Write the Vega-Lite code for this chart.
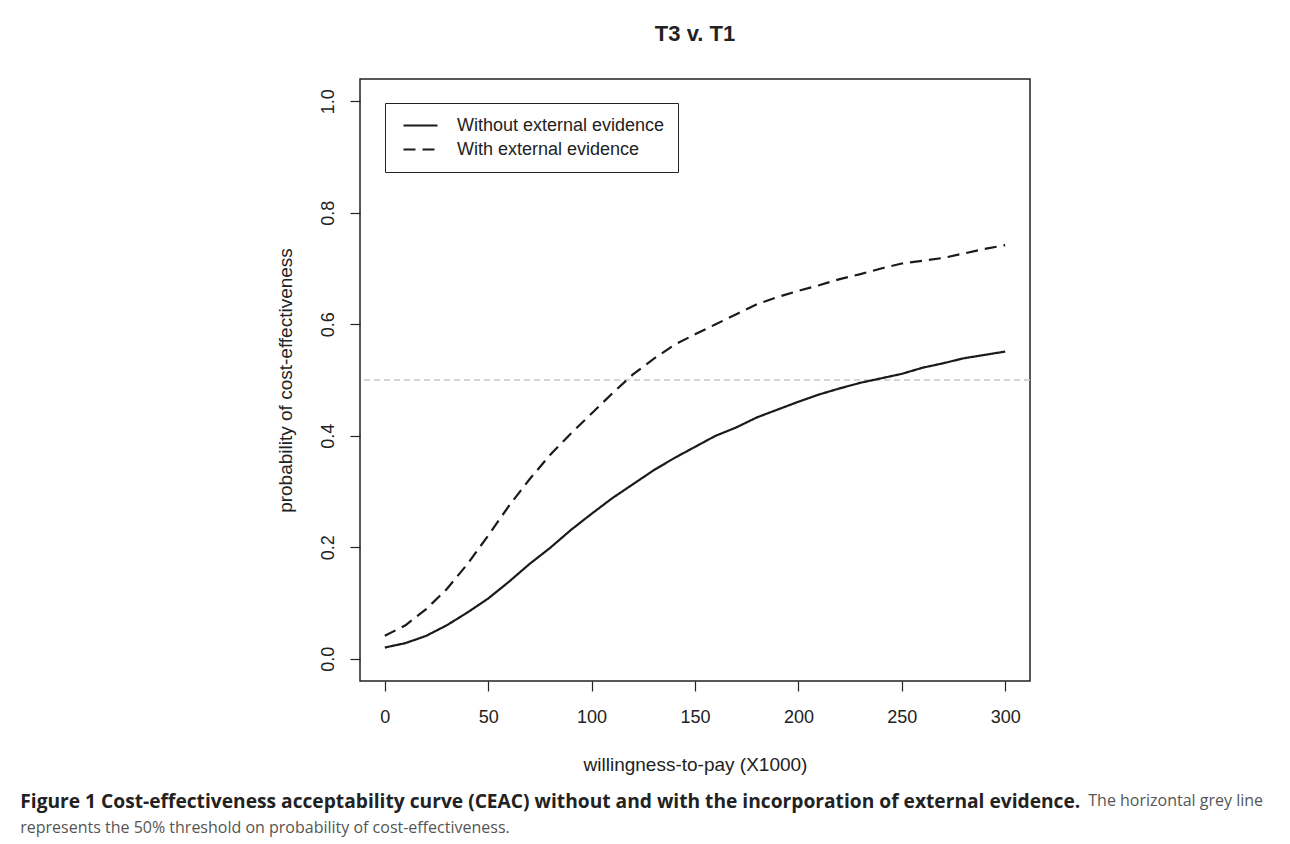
{
  "$schema": "https://vega.github.io/schema/vega-lite/v6.json",
  "background": "white",
  "padding": {"left": 20, "top": 22, "right": 10, "bottom": 10},
  "config": {
    "font": "Liberation Sans",
    "view": {"stroke": "#222", "strokeWidth": 1.5}
  },
  "title": {
    "text": "Figure 1 Cost-effectiveness acceptability curve (CEAC) without and with the incorporation of external evidence.",
    "subtitle": "represents the 50% threshold on probability of cost-effectiveness.",
    "orient": "bottom",
    "anchor": "start",
    "font": "Open Sans",
    "fontSize": 19.2,
    "fontWeight": "bold",
    "color": "#222",
    "subtitleFont": "Open Sans",
    "subtitleFontSize": 16,
    "subtitleColor": "#555",
    "subtitlePadding": 8,
    "offset": 0,
    "dx": -255,
    "dy": -16
  },
  "vconcat": [
    {
      "title": {
        "text": "The horizontal grey line",
        "orient": "bottom",
        "anchor": "start",
        "font": "Open Sans",
        "fontSize": 16,
        "fontWeight": "normal",
        "color": "#555",
        "offset": 18,
        "dx": 813
      },
      "vconcat": [
        {
          "width": 670,
          "height": 602,
          "title": {
            "text": "T3 v. T1",
            "font": "Liberation Sans",
            "fontSize": 22,
            "fontWeight": "bold",
            "color": "#222",
            "anchor": "middle",
            "frame": "group",
            "offset": 33
          },
          "layer": [
            {
              "data": {"values": [{"threshold": 0.5}]},
              "mark": {"type": "rule", "color": "#c8c8c8", "strokeDash": [6, 4], "strokeWidth": 1.5},
              "encoding": {
                "y": {"field": "threshold", "type": "quantitative", "title": "probability of cost-effectiveness"}
              }
            },
            {
              "data": {
                "values": [
                  {"wtp": 0, "prob": 0.02, "evidence": "Without external evidence"},
                  {"wtp": 10, "prob": 0.028, "evidence": "Without external evidence"},
                  {"wtp": 20, "prob": 0.041, "evidence": "Without external evidence"},
                  {"wtp": 30, "prob": 0.06, "evidence": "Without external evidence"},
                  {"wtp": 40, "prob": 0.083, "evidence": "Without external evidence"},
                  {"wtp": 50, "prob": 0.108, "evidence": "Without external evidence"},
                  {"wtp": 60, "prob": 0.138, "evidence": "Without external evidence"},
                  {"wtp": 70, "prob": 0.17, "evidence": "Without external evidence"},
                  {"wtp": 80, "prob": 0.199, "evidence": "Without external evidence"},
                  {"wtp": 90, "prob": 0.231, "evidence": "Without external evidence"},
                  {"wtp": 100, "prob": 0.26, "evidence": "Without external evidence"},
                  {"wtp": 110, "prob": 0.288, "evidence": "Without external evidence"},
                  {"wtp": 120, "prob": 0.313, "evidence": "Without external evidence"},
                  {"wtp": 130, "prob": 0.338, "evidence": "Without external evidence"},
                  {"wtp": 140, "prob": 0.36, "evidence": "Without external evidence"},
                  {"wtp": 150, "prob": 0.38, "evidence": "Without external evidence"},
                  {"wtp": 160, "prob": 0.4, "evidence": "Without external evidence"},
                  {"wtp": 170, "prob": 0.415, "evidence": "Without external evidence"},
                  {"wtp": 180, "prob": 0.433, "evidence": "Without external evidence"},
                  {"wtp": 190, "prob": 0.447, "evidence": "Without external evidence"},
                  {"wtp": 200, "prob": 0.461, "evidence": "Without external evidence"},
                  {"wtp": 210, "prob": 0.474, "evidence": "Without external evidence"},
                  {"wtp": 220, "prob": 0.485, "evidence": "Without external evidence"},
                  {"wtp": 230, "prob": 0.495, "evidence": "Without external evidence"},
                  {"wtp": 240, "prob": 0.503, "evidence": "Without external evidence"},
                  {"wtp": 250, "prob": 0.511, "evidence": "Without external evidence"},
                  {"wtp": 260, "prob": 0.522, "evidence": "Without external evidence"},
                  {"wtp": 270, "prob": 0.53, "evidence": "Without external evidence"},
                  {"wtp": 280, "prob": 0.539, "evidence": "Without external evidence"},
                  {"wtp": 290, "prob": 0.545, "evidence": "Without external evidence"},
                  {"wtp": 300, "prob": 0.551, "evidence": "Without external evidence"},
                  {"wtp": 0, "prob": 0.041, "evidence": "With external evidence"},
                  {"wtp": 10, "prob": 0.06, "evidence": "With external evidence"},
                  {"wtp": 20, "prob": 0.089, "evidence": "With external evidence"},
                  {"wtp": 30, "prob": 0.125, "evidence": "With external evidence"},
                  {"wtp": 40, "prob": 0.17, "evidence": "With external evidence"},
                  {"wtp": 50, "prob": 0.221, "evidence": "With external evidence"},
                  {"wtp": 60, "prob": 0.274, "evidence": "With external evidence"},
                  {"wtp": 70, "prob": 0.322, "evidence": "With external evidence"},
                  {"wtp": 80, "prob": 0.366, "evidence": "With external evidence"},
                  {"wtp": 90, "prob": 0.404, "evidence": "With external evidence"},
                  {"wtp": 100, "prob": 0.44, "evidence": "With external evidence"},
                  {"wtp": 110, "prob": 0.476, "evidence": "With external evidence"},
                  {"wtp": 120, "prob": 0.51, "evidence": "With external evidence"},
                  {"wtp": 130, "prob": 0.538, "evidence": "With external evidence"},
                  {"wtp": 140, "prob": 0.563, "evidence": "With external evidence"},
                  {"wtp": 150, "prob": 0.582, "evidence": "With external evidence"},
                  {"wtp": 160, "prob": 0.6, "evidence": "With external evidence"},
                  {"wtp": 170, "prob": 0.618, "evidence": "With external evidence"},
                  {"wtp": 180, "prob": 0.636, "evidence": "With external evidence"},
                  {"wtp": 190, "prob": 0.649, "evidence": "With external evidence"},
                  {"wtp": 200, "prob": 0.66, "evidence": "With external evidence"},
                  {"wtp": 210, "prob": 0.67, "evidence": "With external evidence"},
                  {"wtp": 220, "prob": 0.681, "evidence": "With external evidence"},
                  {"wtp": 230, "prob": 0.69, "evidence": "With external evidence"},
                  {"wtp": 240, "prob": 0.7, "evidence": "With external evidence"},
                  {"wtp": 250, "prob": 0.709, "evidence": "With external evidence"},
                  {"wtp": 260, "prob": 0.714, "evidence": "With external evidence"},
                  {"wtp": 270, "prob": 0.719, "evidence": "With external evidence"},
                  {"wtp": 280, "prob": 0.727, "evidence": "With external evidence"},
                  {"wtp": 290, "prob": 0.735, "evidence": "With external evidence"},
                  {"wtp": 300, "prob": 0.742, "evidence": "With external evidence"}
                ]
              },
              "mark": {"type": "line", "color": "#1a1a1a", "strokeWidth": 2.2},
              "encoding": {
                "x": {
                  "field": "wtp",
                  "type": "quantitative",
                  "scale": {"domain": [-12, 312], "nice": false, "zero": false},
                  "axis": {
                    "title": "willingness-to-pay (X1000)",
                    "values": [0, 50, 100, 150, 200, 250, 300],
                    "grid": false,
                    "domain": false,
                    "tickSize": 10,
                    "tickWidth": 1.2,
                    "tickColor": "#222",
                    "labelFlush": false,
                    "labelOverlap": false,
                    "labelPadding": 17,
                    "labelFontSize": 18,
                    "labelColor": "#222",
                    "titleFontSize": 19,
                    "titleFontWeight": "normal",
                    "titleColor": "#222",
                    "titlePadding": 29
                  }
                },
                "y": {
                  "field": "prob",
                  "type": "quantitative",
                  "scale": {"domain": [-0.04, 1.04], "nice": false, "zero": false},
                  "title": "probability of cost-effectiveness",
                  "axis": {
                    "values": [0, 0.2, 0.4, 0.6, 0.8, 1],
                    "format": ".1f",
                    "grid": false,
                    "domain": false,
                    "tickSize": 10,
                    "tickWidth": 1.2,
                    "tickColor": "#222",
                    "labelAngle": -90,
                    "labelAlign": "center",
                    "labelBaseline": "alphabetic",
                    "labelPadding": 17,
                    "labelFlush": false,
                    "labelOverlap": false,
                    "labelFontSize": 18,
                    "labelColor": "#222",
                    "titleFontSize": 19,
                    "titleFontWeight": "normal",
                    "titleColor": "#222",
                    "titlePadding": 24
                  }
                },
                "strokeDash": {
                  "field": "evidence",
                  "type": "nominal",
                  "scale": {
                    "domain": ["Without external evidence", "With external evidence"],
                    "range": [[1, 0], [12, 7]]
                  },
                  "legend": {
                    "orient": "none",
                    "legendX": 25,
                    "legendY": 24,
                    "title": null,
                    "strokeColor": "#222",
                    "fillColor": "white",
                    "padding": 13,
                    "symbolType": "M-2,0H2",
                    "symbolSize": 289,
                    "symbolStrokeWidth": 2,
                    "symbolStrokeColor": "#1a1a1a",
                    "symbolFillColor": "transparent",
                    "symbolOffset": 13,
                    "labelOffset": 27,
                    "labelLimit": 0,
                    "labelFont": "Liberation Sans",
                    "labelFontSize": 18,
                    "labelColor": "#222",
                    "rowPadding": 5
                  }
                }
              }
            }
          ]
        }
      ]
    }
  ]
}
